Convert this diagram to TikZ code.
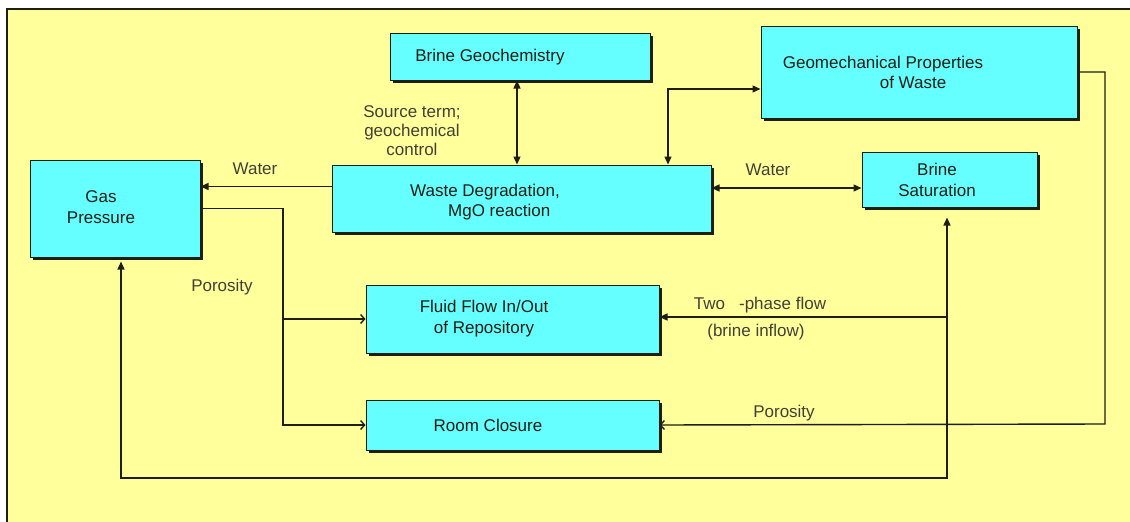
\documentclass[tikz,border=0pt]{standalone}
\usepackage{fontspec}
\setmainfont{Liberation Sans}
\usetikzlibrary{arrows.meta,shadows}
\definecolor{bgyellow}{RGB}{255,255,155}
\definecolor{boxcyan}{RGB}{102,255,255}
\definecolor{ink}{RGB}{30,30,20}
\tikzset{
  box/.style={draw=ink, line width=1pt, fill=boxcyan, inner sep=0pt,
    drop shadow={shadow xshift=2.5pt, shadow yshift=-2.5pt, fill=ink, opacity=1}},
  txt/.style={font=\fontsize{17}{20.5}\selectfont, text=ink, inner sep=0pt},
  lbl/.style={font=\fontsize{17}{19}\selectfont, text=ink!85, inner sep=0pt},
  conn/.style={draw=ink, line width=1.4pt},
  arr/.style={conn, -{Triangle[length=8pt,width=7pt]}},
  arrtwo/.style={conn, {Triangle[length=8pt,width=7pt]}-{Triangle[length=8pt,width=7pt]}},
  arropen/.style={conn, -{Straight Barb[length=4pt,width=9pt]}}
}
\begin{document}
\begin{tikzpicture}[x=1pt,y=-1pt]
\useasboundingbox (0,0) rectangle (1130,522);
\fill[white] (0,0) rectangle (1130,522);
\fill[bgyellow] (7,9) rectangle (1130,522);
\draw[ink, line width=1.2pt] (7,522) -- (7,9) -- (1130,9);

% boxes
\node[box, minimum width=260pt, minimum height=47pt] (geo) at (520.5,56.5) {};
\node[txt] (geo-t) at (490,57) {Brine Geochemistry};

\node[box, minimum width=316pt, minimum height=92pt] (mech) at (919,72) {};
\node[txt, align=left] (mech-t) at (883,72.5) {Geomechanical Properties\\\hspace*{97pt}of Waste};

\node[box, minimum width=170pt, minimum height=97pt] (gas) at (115,208.5) {};
\node[txt, align=center] (gas-t) at (101,207) {Gas\\Pressure};

\node[box, minimum width=379pt, minimum height=67pt] (waste) at (521.5,198.5) {};
\node[txt, align=left] (waste-t) at (485,202) {Waste Degradation,\\\hspace*{38pt}MgO reaction};

\node[box, minimum width=175pt, minimum height=55pt] (sat) at (949.5,179.5) {};
\node[txt, align=center] (sat-t) at (937,180) {Brine\\Saturation};

\node[box, minimum width=293pt, minimum height=68pt] (fluid) at (512.5,319) {};
\node[txt, align=center] (fluid-t) at (484,318.5) {Fluid Flow In/Out\\of Repository};

\node[box, minimum width=293pt, minimum height=50pt] (room) at (512.5,425) {};
\node[txt] (room-t) at (488,425) {Room Closure};

% coordinates for junctions
\coordinate (pj) at (283,319);
\coordinate (bl) at (121,478);
\coordinate (br) at (947,478);
\coordinate (tp) at (947,317);
\coordinate (rr) at (1105,424);

% connectors
\draw[arrtwo] ([xshift=-3.5pt]geo.south) -- ([xshift=-4.5pt]waste.north);
\draw[arr] ([yshift=12pt]waste.west) -- ([yshift=12pt]waste.west -| gas.east);
\draw[arrtwo] ([yshift=-17pt]mech.west) -| ([xshift=146.5pt]waste.north);
\draw[arrtwo] ([yshift=10.5pt]waste.east) -- ([yshift=10.5pt]waste.east -| sat.west);
\draw[arropen] (gas.east) -| (pj) -- (fluid.west);
\draw[arropen] (pj) |- (room.west);
\draw[arrtwo, shorten <=4pt, shorten >=10pt] (gas.south -| bl) -- (bl) -- (br) -- (sat.south -| br);
\draw[arr] (tp) -- (tp -| fluid.east);
\draw[arropen] (mech.east) -| (rr) -- (room.east);

% labels
\node[lbl, align=center] (src) at (412,131) {Source term;\\geochemical\\control};
\node[lbl] (w1) at (255,169) {Water};
\node[lbl] (w2) at (768,170) {Water};
\node[lbl] (p1) at (222,287) {Porosity};
\node[lbl] (tpf) at (760,305) {Two\hspace{14pt}-phase flow};
\node[lbl] (bi) at (756,332) {(brine inflow)};
\node[lbl] (p2) at (784,413) {Porosity};
\end{tikzpicture}
\end{document}
